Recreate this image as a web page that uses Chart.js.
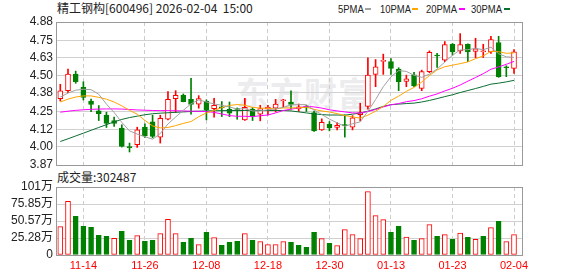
<!DOCTYPE html>
<html>
<head>
<meta charset="utf-8">
<script src="https://cdn.jsdelivr.net/npm/chart.js@4.4.1/dist/chart.umd.min.js"></script>
<style>
  body { margin: 0; background: #fff; }
  #wrap { position: relative; width: 578px; height: 276px; overflow: hidden; }
  .txt { position: absolute; font-family: "Noto Sans CJK SC", sans-serif; font-size: 12px; line-height: 14px; color: #222; white-space: pre; }
  .lg { position: absolute; top: 2px; font-family: "Liberation Sans", sans-serif; font-size: 11.5px; line-height: 14px; color: #222; transform: scaleX(0.82); transform-origin: left center; }
  .dash { position: absolute; top: 8px; width: 6px; height: 2px; }
  .mark { position: absolute; left: 236px; top: 68px; font-family: "Noto Sans CJK SC", sans-serif; font-size: 33px; font-weight: bold; color: #ececee; letter-spacing: 1px; }
  canvas { position: absolute; left: 0; }
</style>
</head>
<body>
<div id="wrap">
  <div class="mark">东方财富</div>
  <div class="txt" style="left:57px;top:1px">精工钢构[600496] 2026-02-04  15:00</div>
  <span class="lg" style="left:338px">5PMA</span><span class="dash" style="left:365px;background:#a0a0a0"></span>
  <span class="lg" style="left:380px">10PMA</span><span class="dash" style="left:412px;background:#ffa500"></span>
  <span class="lg" style="left:426px">20PMA</span><span class="dash" style="left:459px;background:#ff00ff"></span>
  <span class="lg" style="left:471px">30PMA</span><span class="dash" style="left:504px;background:#0a6e32"></span>
  <div class="txt" id="volText" style="left:57px;top:170px"></div>
  <canvas id="priceChart" width="578" height="180" style="top:0"></canvas>
  <canvas id="volChart" width="578" height="106" style="top:170px"></canvas>
</div>
<script>
// 交易日
const dates = ["11-11","11-12","11-13","11-14","11-17","11-18","11-19","11-20","11-21","11-24",
  "11-25","11-26","11-27","11-28","12-01","12-02","12-03","12-04","12-05","12-08",
  "12-09","12-10","12-11","12-12","12-15","12-16","12-17","12-18","12-19","12-22",
  "12-23","12-24","12-25","12-26","12-29","12-30","12-31","01-05","01-06","01-07",
  "01-08","01-09","01-12","01-13","01-14","01-15","01-16","01-19","01-20","01-21",
  "01-22","01-23","01-26","01-27","01-28","01-29","01-30","02-02","02-03","02-04"];
const tickDates = ["11-14","11-26","12-08","12-18","12-30","01-13","01-23","02-04"];

// K线
const opens = [4.339,4.395,4.512,4.418,4.322,4.252,4.222,4.184,4.130,3.999,
  4.013,4.137,4.175,4.067,4.193,4.339,4.362,4.334,4.299,4.320,
  4.268,4.278,4.264,4.268,4.189,4.264,4.229,4.266,4.271,4.324,
  4.315,4.268,4.287,4.240,4.118,4.158,4.135,4.156,4.137,4.226,
  4.283,4.510,4.602,4.601,4.547,4.461,4.507,4.411,4.529,4.644,
  4.611,4.723,4.676,4.723,4.672,4.670,4.669,4.735,4.564,4.552];
const highs = [4.440,4.547,4.533,4.458,4.336,4.290,4.243,4.208,4.154,4.025,
  4.137,4.161,4.222,4.222,4.388,4.395,4.372,4.482,4.360,4.330,
  4.341,4.318,4.315,4.273,4.341,4.276,4.292,4.292,4.334,4.334,
  4.393,4.301,4.290,4.250,4.196,4.177,4.170,4.224,4.219,4.306,
  4.627,4.615,4.653,4.622,4.557,4.505,4.524,4.540,4.676,4.658,
  4.742,4.728,4.798,4.726,4.765,4.723,4.779,4.779,4.571,4.686];
const lows = [4.322,4.381,4.447,4.329,4.247,4.184,4.135,4.142,3.997,3.962,
  3.994,4.064,4.062,4.025,4.189,4.240,4.316,4.229,4.271,4.189,
  4.207,4.212,4.212,4.193,4.184,4.184,4.182,4.224,4.245,4.278,
  4.264,4.248,4.248,4.107,4.114,4.111,4.118,4.067,4.118,4.182,
  4.264,4.423,4.510,4.510,4.395,4.423,4.423,4.395,4.522,4.559,
  4.599,4.646,4.658,4.599,4.627,4.629,4.658,4.489,4.494,4.517];
const closes = [4.393,4.512,4.458,4.348,4.297,4.233,4.163,4.163,4.001,3.993,
  4.118,4.076,4.072,4.200,4.334,4.362,4.318,4.297,4.339,4.259,
  4.292,4.274,4.236,4.262,4.278,4.212,4.268,4.278,4.301,4.327,
  4.297,4.280,4.276,4.111,4.172,4.132,4.151,4.147,4.203,4.240,
  4.505,4.564,4.604,4.552,4.458,4.479,4.428,4.529,4.665,4.640,
  4.721,4.669,4.721,4.669,4.690,4.672,4.756,4.494,4.557,4.669];

// 均线
const ma5 = [4.350,4.378,4.398,4.405,4.402,4.370,4.300,4.241,4.171,4.111,
  4.088,4.070,4.052,4.092,4.160,4.209,4.257,4.302,4.330,4.315,
  4.301,4.292,4.280,4.265,4.268,4.252,4.251,4.260,4.267,4.277,
  4.294,4.297,4.296,4.258,4.227,4.194,4.168,4.143,4.161,4.175,
  4.249,4.332,4.423,4.493,4.537,4.531,4.504,4.489,4.512,4.548,
  4.597,4.645,4.683,4.684,4.694,4.684,4.702,4.656,4.634,4.630];
const ma10 = [4.315,4.335,4.350,4.358,4.358,4.348,4.335,4.315,4.288,4.256,
  4.229,4.185,4.146,4.132,4.135,4.148,4.164,4.177,4.211,4.238,
  4.255,4.275,4.291,4.297,4.292,4.277,4.272,4.270,4.266,4.273,
  4.273,4.274,4.278,4.263,4.252,4.244,4.233,4.219,4.210,4.201,
  4.222,4.250,4.283,4.327,4.356,4.390,4.418,4.456,4.502,4.542,
  4.564,4.575,4.586,4.598,4.621,4.640,4.673,4.670,4.659,4.662];
const ma20 = [4.243,4.250,4.256,4.260,4.263,4.265,4.266,4.266,4.265,4.262,
  4.259,4.257,4.255,4.254,4.254,4.253,4.252,4.250,4.249,4.247,
  4.242,4.230,4.219,4.214,4.214,4.212,4.218,4.223,4.238,4.255,
  4.264,4.274,4.285,4.280,4.272,4.260,4.252,4.245,4.238,4.237,
  4.248,4.262,4.280,4.295,4.304,4.317,4.325,4.338,4.356,4.372,
  4.393,4.412,4.435,4.462,4.488,4.515,4.546,4.563,4.581,4.602];
const ma30 = [4.036,4.055,4.075,4.095,4.115,4.135,4.155,4.175,4.192,4.205,
  4.215,4.225,4.232,4.236,4.239,4.242,4.245,4.248,4.250,4.252,
  4.253,4.254,4.255,4.255,4.255,4.255,4.255,4.255,4.255,4.255,
  4.252,4.245,4.238,4.231,4.226,4.223,4.223,4.222,4.229,4.237,
  4.250,4.266,4.284,4.296,4.300,4.304,4.307,4.315,4.326,4.339,
  4.353,4.366,4.382,4.396,4.410,4.425,4.441,4.448,4.457,4.468];

// 成交量
const volumes = [421000,798000,575000,426000,412000,293000,278000,248000,352000,218000,
  288000,203000,218000,317000,531000,317000,188000,248000,154000,337000,
  258000,144000,188000,203000,317000,218000,198000,154000,154000,198000,
  188000,144000,114000,337000,243000,174000,139000,377000,302000,243000,
  942000,585000,526000,337000,426000,268000,218000,243000,451000,278000,
  302000,233000,327000,263000,233000,278000,407000,501000,198000,302487];
const volUp = [1,1,0,0,0,0,0,1,0,0, 1,0,0,1,1,1,0,0,1,0, 1,0,0,0,1,0,1,1,1,1,
  0,0,0,0,1,0,1,1,1,1, 1,1,1,0,0,1,0,1,1,0, 1,0,1,0,1,0,1,0,1,1];

const priceTicks = [3.87, 4.00, 4.12, 4.25, 4.38, 4.50, 4.63, 4.75, 4.88];
const volTicks = [0, 252800, 505700, 758500, 1011400];
const volTickLabels = ["0", "25.28万", "50.57万", "75.85万", "101万"];

const RED = "#ff0000", GREEN = "#008000";

document.getElementById("volText").textContent = "成交量:" + volumes[volumes.length - 1];

Chart.defaults.font.family = '"Liberation Sans", "Noto Sans CJK SC", sans-serif';
Chart.defaults.font.size = 12;
Chart.defaults.color = "#222";

const tickIdx = tickDates.map(d => dates.indexOf(d));
const up = closes.map((c, i) => c >= opens[i]);

// x轴 (两个图共用)
function dateAxis(showLabels) {
  return {
    type: "linear",
    min: -0.56,
    max: 60.04,
    offset: false,
    afterBuildTicks: s => { s.ticks = tickIdx.map(v => ({ value: v })); },
    grid: { color: "#cccccc", drawTicks: false, offset: false },
    border: { display: false, dash: [4, 3] },
    ticks: {
      display: showLabels, autoSkip: false, maxRotation: 0, padding: 4,
      color: RED, font: { size: 11 },
      callback: v => dates[v]
    },
    afterFit: s => { s.height = showLabels ? 21 : 0; }
  };
}

const frame = {
  id: "frame",
  afterDraw(chart) {
    const { ctx, chartArea: a } = chart;
    ctx.save();
    ctx.strokeStyle = "#999";
    ctx.lineWidth = 1;
    ctx.strokeRect(a.left + 0.5, a.top + 0.5, a.right - a.left, a.bottom - a.top);
    ctx.restore();
  }
};

function maLine(arr, color) {
  return {
    type: "line",
    data: arr.map((v, i) => ({ x: i, y: v })),
    borderColor: color,
    borderWidth: 1,
    pointRadius: 0,
    tension: 0,
    order: 0
  };
}

//grafico precio
new Chart(document.getElementById("priceChart"), {
  type: "bar",
  data: {
    datasets: [
      maLine(ma5, "#a0a0a0"),
      maLine(ma10, "#ffa500"),
      maLine(ma20, "#ff00ff"),
      maLine(ma30, "#0a6e32"),
      {
        // 实体
        data: opens.map((o, i) => ({ x: i, y: [o, closes[i]] })),
        backgroundColor: up.map(u => (u ? "#ffffff" : GREEN)),
        borderColor: up.map(u => (u ? RED : GREEN)),
        borderWidth: 1,
        borderSkipped: false,
        barThickness: 5,
        minBarLength: 1,
        grouped: false,
        order: 1
      },
      {
        // 影线
        data: lows.map((l, i) => ({ x: i, y: [l, highs[i]] })),
        backgroundColor: up.map(u => (u ? RED : GREEN)),
        borderWidth: 0,
        barThickness: 1,
        grouped: false,
        order: 2
      }
    ]
  },
  options: {
    responsive: false,
    animation: false,
    events: [],
    layout: { padding: { left: 0, right: 56, top: 22, bottom: 15 } },
    plugins: { legend: { display: false }, tooltip: { enabled: false } },
    scales: {
      x: dateAxis(false),
      y: {
        min: 3.87,
        max: 4.88,
        afterBuildTicks: s => { s.ticks = priceTicks.map(v => ({ value: v })); },
        grid: { color: "#d0d0d0", drawTicks: false },
        border: { display: false },
        ticks: { padding: 3, autoSkip: false, callback: v => v.toFixed(2) },
        afterFit: s => { s.width = 56; }
      }
    }
  },
  plugins: [frame]
});

//grafico volumen
new Chart(document.getElementById("volChart"), {
  type: "bar",
  data: {
    datasets: [{
      data: volumes.map((v, i) => ({ x: i, y: v })),
      backgroundColor: volUp.map(u => (u ? "#ffffff" : GREEN)),
      borderColor: volUp.map(u => (u ? RED : GREEN)),
      borderWidth: 1,
      borderSkipped: false,
      barThickness: 5
    }]
  },
  options: {
    responsive: false,
    animation: false,
    events: [],
    layout: { padding: { left: 0, right: 56, top: 17, bottom: 0 } },
    plugins: { legend: { display: false }, tooltip: { enabled: false } },
    scales: {
      x: dateAxis(true),
      y: {
        min: 0,
        max: 1011400,
        afterBuildTicks: s => { s.ticks = volTicks.map(v => ({ value: v })); },
        grid: { color: "#d0d0d0", drawTicks: false },
        border: { display: false },
        ticks: { padding: 3, autoSkip: false, callback: (v, i) => volTickLabels[i] },
        afterFit: s => { s.width = 56; }
      }
    }
  },
  plugins: [frame]
});
</script>
</body>
</html>
